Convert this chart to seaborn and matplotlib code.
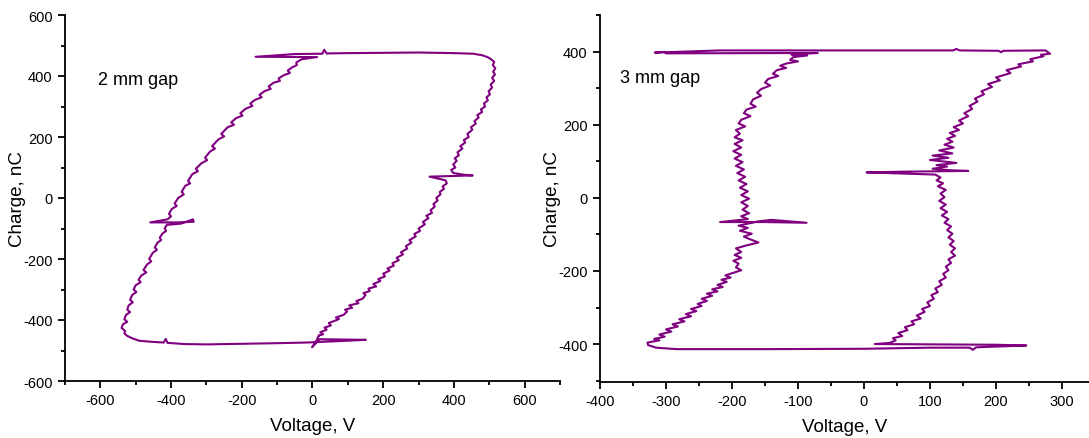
import matplotlib
matplotlib.use("Agg")
import matplotlib.pyplot as plt
from matplotlib.ticker import MultipleLocator
import seaborn as sns
import pandas as pd

# ---------------- 2 mm gap loop (Voltage V, Charge nC) ----------------
right_branch_2mm = [(18,-451),(30,-447),(22,-440),(40,-432),(34,-425),(52,-418),(46,-410),(75,-397),(66,-392),(88,-383),
    (98,-372),(92,-366),(112,-360),(104,-352),(130,-345),(124,-338),(142,-330),(150,-318),(144,-312),(162,-305),
    (158,-297),(180,-290),(172,-282),(192,-272),(186,-266),(205,-257),(200,-248),(218,-238),(212,-231),(230,-222),
    (226,-214),(244,-204),(238,-196),(256,-185),(250,-178),(268,-166),(264,-158),(280,-146),(274,-138),(292,-126),
    (288,-118),(304,-108),(300,-100),(318,-86),(312,-79),(328,-66),(322,-58),(338,-49),(334,-40),(346,-28),
    (342,-20),(354,-8),(350,0),(362,12),(360,20),(372,30),(368,38),(380,48),(376,58),
    (331,70),(453,74),(430,76),(398,82),(392,92),(404,100),(398,110),(408,122),(402,130),(414,140),(410,150),
    (424,162),(418,170),(432,182),(428,190),(442,200),(438,210),(452,224),(448,232),(462,244),(458,252),
    (470,264),(466,272),(480,282),(476,290),(488,300),(485,310),(496,320),(492,330),(502,340),(498,350),
    (508,362),(504,372),(514,384),(508,394),(516,405),(511,414),(517,425),(510,436),(514,446),(505,455),
    (495,462),(480,468),(455,473)]
top_2mm = [(400,475),(300,477),(200,476),(100,475),(40,474),(33,486),(28,473),(-50,472),(-161,463),(13,462),(-30,455)]
left_branch_2mm = [(-38,450),(-46,444),(-44,436),(-58,428),(-70,418),(-64,410),(-82,402),(-96,392),(-92,384),(-110,378),
    (-124,366),(-118,358),(-136,350),(-150,338),(-144,330),(-162,322),(-176,310),(-170,302),(-190,292),(-204,278),
    (-198,270),(-216,262),(-230,248),(-222,240),(-240,232),(-258,210),(-250,202),(-266,192),(-284,170),(-276,162),
    (-290,152),(-304,132),(-298,124),(-314,114),(-330,96),(-324,88),(-340,78),(-352,56),(-346,48),(-360,40),
    (-370,20),(-364,12),(-380,0),(-390,-18),(-384,-26),(-398,-36),(-406,-52),(-400,-60),(-410,-70),
    (-459,-80),(-380,-80),(-336,-78),(-338,-70),(-372,-84),(-412,-88),(-418,-100),(-414,-108),(-424,-116),
    (-432,-130),(-428,-138),(-438,-146),(-446,-162),(-440,-170),(-452,-180),(-462,-200),(-456,-208),(-468,-218),
    (-478,-236),(-470,-244),(-484,-254),(-492,-268),(-486,-276),(-500,-286),(-506,-300),(-498,-308),(-510,-318),
    (-516,-334),(-508,-342),(-520,-352),(-524,-366),(-516,-374),(-528,-384),(-532,-398),(-524,-406),(-536,-414),
    (-540,-426),(-530,-436),(-532,-444),(-524,-452),(-510,-460),(-490,-468)]
bottom_2mm = [(-460,-471),(-421,-474),(-415,-462),(-410,-475),(-360,-479),(-300,-480),(-200,-478),(-100,-476),
    (-20,-474),(60,-470),(151,-465),(20,-463),(-1,-489),(10,-470),(18,-451)]

# ---------------- 3 mm gap loop (Voltage V, Charge nC) ----------------
right_branch_3mm = [(17,-400),(39,-397),(48,-390),(44,-384),(58,-378),(52,-370),(66,-362),(62,-354),(76,-346),(72,-338),
    (86,-330),(80,-322),(92,-312),(88,-304),(100,-296),(96,-286),(106,-276),(102,-266),(112,-258),(108,-248),
    (118,-238),(114,-228),(124,-218),(120,-208),(128,-198),(124,-188),(132,-178),(128,-168),(138,-158),(132,-148),
    (138,-138),(130,-128),(136,-118),(128,-108),(134,-98),(126,-88),(132,-78),(122,-68),(128,-58),(118,-48),
    (126,-38),(116,-28),(124,-18),(114,-8),(122,2),(116,12),(124,22),(112,32),(120,40),(110,48),(116,56),(108,64),
    (4,70),(60,72),(158,74),(130,76),(104,80),(126,86),(110,90),(140,96),(100,104),(128,110),(104,116),(134,122),
    (114,130),(136,138),(122,146),(134,154),(126,162),(138,170),(130,178),(144,186),(136,194),(150,204),(144,212),
    (158,224),(152,232),(164,244),(160,252),(172,264),(168,272),(182,284),(178,292),(194,304),(188,312),(206,322),
    (200,330),(222,342),(216,350),(238,360),(234,366),(256,374),(252,380),(272,388),(268,392),(282,395)]
top_3mm = [(275,404),(211,403),(208,399),(204,403),(145,404),(140,408),(135,404),(-218,404),(-317,398),
    (-302,400),(-300,396),(-70,397),(-110,393)]
left_branch_3mm = [(-86,390),(-107,386),(-112,378),(-100,374),(-118,368),(-127,362),(-118,356),(-132,350),(-138,340),
    (-130,334),(-145,326),(-150,316),(-142,308),(-156,298),(-162,288),(-156,280),(-168,270),(-172,258),(-164,250),
    (-178,242),(-182,232),(-172,224),(-186,214),(-190,204),(-180,196),(-194,186),(-188,176),(-196,166),(-184,158),
    (-196,148),(-186,138),(-198,128),(-186,118),(-196,108),(-184,98),(-194,88),(-182,78),(-192,68),(-180,58),
    (-190,48),(-178,38),(-188,28),(-176,18),(-186,8),(-174,-2),(-186,-12),(-176,-22),(-184,-32),(-174,-42),
    (-186,-50),(-176,-58),(-218,-66),(-150,-66),(-87,-68),(-140,-60),(-160,-64),(-180,-72),(-190,-76),(-176,-82),
    (-188,-90),(-170,-98),(-182,-106),(-174,-112),(-160,-122),(-178,-130),(-194,-138),(-186,-148),(-196,-156),
    (-186,-164),(-198,-172),(-190,-180),(-194,-190),(-186,-198),(-200,-206),(-210,-212),(-202,-218),(-216,-224),
    (-208,-230),(-222,-238),(-214,-244),(-230,-250),(-222,-256),(-238,-262),(-230,-268),(-246,-276),(-238,-282),
    (-252,-290),(-246,-296),(-262,-304),(-254,-310),(-270,-318),(-262,-324),(-280,-332),(-272,-338),(-290,-346),
    (-282,-352),(-300,-360),(-292,-366),(-310,-374),(-302,-380),(-318,-386),(-310,-390),(-328,-396),(-327,-403)]
bottom_3mm = [(-315,-410),(-284,-414),(-150,-414),(0,-413),(100,-410),(160,-410),(165,-416),(170,-409),(246,-404),
    (200,-402),(100,-401),(17,-400)]

panels = [
    ("2 mm gap", right_branch_2mm + top_2mm + left_branch_2mm + bottom_2mm),
    ("3 mm gap", right_branch_3mm + top_3mm + left_branch_3mm + bottom_3mm),
]

LINE = "#800080"
sns.set_theme(style="ticks")
plt.rcParams["font.family"] = ["Liberation Sans", "DejaVu Sans"]
plt.rcParams["axes.unicode_minus"] = False
plt.rcParams["text.color"] = "black"
plt.rcParams["axes.labelcolor"] = "black"
plt.rcParams["xtick.color"] = "black"
plt.rcParams["ytick.color"] = "black"

fig = plt.figure(figsize=(10.89, 4.39), dpi=100)
W, H = 1089, 439
ax1 = fig.add_axes([65 / W, 1 - 382 / H, (560 - 65) / W, (382 - 16) / H])
ax2 = fig.add_axes([600 / W, 1 - 383 / H, (1089 - 600) / W, (383 - 16) / H])

for ax, (label, pts) in zip([ax1, ax2], panels):
    df = pd.DataFrame(pts, columns=["Voltage", "Charge"])
    sns.lineplot(data=df, x="Voltage", y="Charge", sort=False, estimator=None,
                 color=LINE, lw=1.5, ax=ax)
    ax.set_xlabel("Voltage, V", fontsize=13.5, labelpad=7, color="black")
    ax.set_ylabel("Charge, nC", fontsize=13.5, labelpad=-2, color="black")
    for side in ["top", "right"]:
        ax.spines[side].set_visible(False)
    for side in ["left", "bottom"]:
        ax.spines[side].set_linewidth(1.3)
        ax.spines[side].set_color("black")
    ax.tick_params(which="major", direction="out", length=5, width=1.3, labelsize=10.5,
                   colors="black", pad=4)
    ax.tick_params(which="minor", direction="out", length=3, width=1.3, colors="black")

ax1.set_xlim(-700, 700)
ax1.set_ylim(-600, 600)
ax1.xaxis.set_major_locator(MultipleLocator(200))
ax1.xaxis.set_minor_locator(MultipleLocator(100))
ax1.yaxis.set_major_locator(MultipleLocator(200))
ax1.yaxis.set_minor_locator(MultipleLocator(100))
ax1.text(-606, 390, "2 mm gap", fontsize=13, ha="left", va="center", color="black")

ax2.set_xlim(-400, 341)
ax2.set_ylim(-504, 501)
ax2.xaxis.set_major_locator(MultipleLocator(100))
ax2.xaxis.set_minor_locator(MultipleLocator(50))
ax2.set_yticks([-400, -200, 0, 200, 400])
ax2.yaxis.set_minor_locator(MultipleLocator(100))
ax2.text(-370, 331, "3 mm gap", fontsize=13, ha="left", va="center", color="black")

for ax in (ax1, ax2):
    ax.patch.set_alpha(0)
fig.patch.set_facecolor("white")

fig.savefig("out.png", dpi=100)
